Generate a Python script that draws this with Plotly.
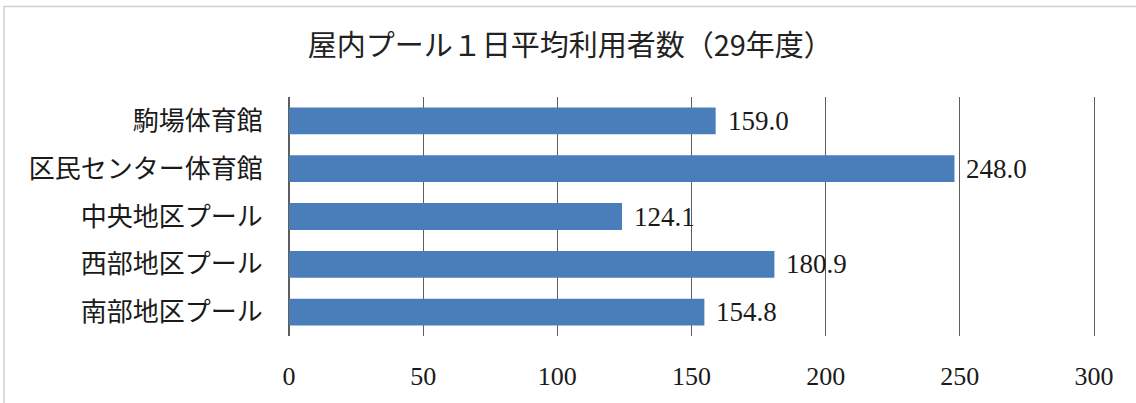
import plotly.graph_objects as go

# 施設名（上から順）と1日平均利用者数
facilities = ["駒場体育館", "区民センター体育館", "中央地区プール", "西部地区プール", "南部地区プール"]
daily_users = [159.0, 248.0, 124.1, 180.9, 154.8]
x_ticks = [0, 50, 100, 150, 200, 250, 300]

title_text = "屋内プール１日平均利用者数（29年度）"

BAR_COLOR = "#4a7ebb"
GRID_COLOR = "#5e5e5e"
SERIF = "Liberation Serif, Noto Sans CJK JP, serif"
SANS = "Noto Sans CJK JP, sans-serif"

fig = go.Figure(
    go.Bar(
        x=daily_users,
        y=facilities,
        orientation="h",
        marker=dict(color=BAR_COLOR, line=dict(width=0)),
        hoverinfo="skip",
    )
)

# 値ラベル（棒の右側）
for name, v in zip(facilities, daily_users):
    fig.add_annotation(
        x=v, y=name, xref="x", yref="y",
        text=f"{v:.1f}", showarrow=False,
        xanchor="left", yanchor="middle", xshift=10,
        font=dict(family=SERIF, size=27, color="#1a1a1a"),
    )

fig.update_layout(
    width=1136, height=403,
    margin=dict(l=289, r=42, t=97, b=63),
    paper_bgcolor="white", plot_bgcolor="white",
    bargap=0.44,
    showlegend=False,
    title=dict(
        text=title_text, x=0.502, xref="container", xanchor="center",
        y=1 - 46 / 403, yref="container", yanchor="middle",
        font=dict(family=SANS, size=29, color="#222222"),
    ),
    xaxis=dict(
        range=[0, 300], tickvals=x_ticks, ticktext=[str(t) for t in x_ticks],
        showgrid=True, gridcolor=GRID_COLOR, gridwidth=1,
        zeroline=True, zerolinecolor=GRID_COLOR, zerolinewidth=1,
        showline=False, ticks="", ticklabelstandoff=22,
        tickfont=dict(family=SERIF, size=26, color="#1a1a1a"),
        fixedrange=True,
    ),
    yaxis=dict(
        autorange="reversed", showgrid=False, zeroline=False,
        showline=True, mirror=True, linecolor=GRID_COLOR, linewidth=1,
        ticks="", ticklabelstandoff=20,
        tickfont=dict(family=SERIF, size=26, color="#1a1a1a"),
        fixedrange=True,
    ),
    shapes=[
        # 外枠（上辺と左辺）
        dict(type="rect", xref="paper", yref="paper",
             x0=(4 - 289) / 805, x1=(1140 - 289) / 805,
             y0=(340 - 410) / 243, y1=(340 - 5) / 243,
             line=dict(color="#cfcfcf", width=1.5), layer="below"),
    ],
)

fig.write_html("out.html", config={"displayModeBar": False})
